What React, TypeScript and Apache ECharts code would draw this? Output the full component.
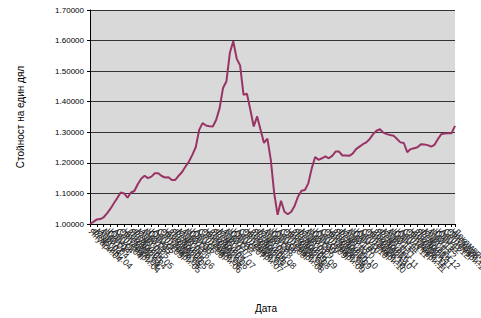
import React, { useEffect, useRef } from "react";
import * as echarts from "echarts";

const monthNames = [
  "Януари", "Февруари", "Март", "Април", "Май", "Юни",
  "Юли", "Август", "Септември", "Октомври", "Ноември", "Декември",
];
const years = ["04", "05", "06", "07", "08", "09", "10", "11", "12"];

const categories: string[] = [];
years.forEach((y) => monthNames.forEach((m) => categories.push(`${m}.${y}`)));

const values = [
  1.000, 1.007, 1.015, 1.016, 1.022, 1.035, 1.050, 1.068, 1.085, 1.103,
  1.100, 1.086, 1.103, 1.108, 1.130, 1.148, 1.158, 1.150, 1.155, 1.166,
  1.166, 1.157, 1.152, 1.153, 1.144, 1.144, 1.158, 1.170, 1.188, 1.204,
  1.226, 1.251, 1.308, 1.330, 1.322, 1.320, 1.319, 1.341, 1.379, 1.445,
  1.467, 1.560, 1.598, 1.541, 1.519, 1.423, 1.426, 1.374, 1.319, 1.352,
  1.308, 1.265, 1.279, 1.210, 1.100, 1.030, 1.076, 1.040, 1.032, 1.040,
  1.060, 1.090, 1.109, 1.111, 1.133, 1.182, 1.219, 1.210, 1.215, 1.221,
  1.215, 1.223, 1.237, 1.237, 1.224, 1.224, 1.223, 1.230, 1.245, 1.253,
  1.261, 1.267, 1.278, 1.294, 1.305, 1.310, 1.299, 1.294, 1.291, 1.289,
  1.278, 1.267, 1.265, 1.235, 1.245, 1.248, 1.251, 1.261, 1.260, 1.258,
  1.253, 1.259, 1.278, 1.294, 1.296, 1.297, 1.297, 1.321,
];

const yAxisTitle = "Стойност на един дял";
const xAxisTitle = "Дата";

const FONT = "'Liberation Sans', Arial, sans-serif";

export default function App() {
  const ref = useRef<HTMLDivElement>(null);
  useEffect(() => {
    if (!ref.current) return;
    const chart = echarts.init(ref.current, null, { renderer: "svg" });
    chart.setOption({
      animation: false,
      backgroundColor: "#ffffff",
      textStyle: { fontFamily: FONT },
      grid: {
        left: 90,
        right: 26,
        top: 10,
        bottom: 94,
        containLabel: false,
        outerBoundsMode: "none",
        show: true,
        backgroundColor: "#d9d9d9",
        borderWidth: 0,
      },
      xAxis: {
        type: "category",
        data: categories,
        boundaryGap: false,
        axisLine: { lineStyle: { color: "#000", width: 1 } },
        axisTick: { interval: 1, length: 3, lineStyle: { color: "#000" } },
        axisLabel: {
          interval: 0,
          rotate: -45,
          fontSize: 9,
          color: "#222",
          fontFamily: FONT,
          margin: 6,
        },
        splitLine: { show: false },
      },
      yAxis: {
        type: "value",
        min: 1.0,
        max: 1.7,
        interval: 0.1,
        axisLine: { show: true, lineStyle: { color: "#000", width: 1 } },
        axisTick: { show: true, length: 3, lineStyle: { color: "#000" } },
        axisLabel: {
          fontSize: 8,
          color: "#000",
          fontFamily: FONT,
          margin: 6,
          formatter: (v: number) => v.toFixed(5),
        },
        splitLine: { show: true, lineStyle: { color: "#333", width: 1 } },
      },
      graphic: [
        {
          type: "text",
          x: 20,
          y: 117,
          rotation: Math.PI / 2,
          style: {
            text: yAxisTitle,
            fontSize: 10,
            fontFamily: FONT,
            fill: "#000",
            align: "center",
            verticalAlign: "middle",
          },
        },
        {
          type: "text",
          x: 266,
          y: 308,
          style: {
            text: xAxisTitle,
            fontSize: 10,
            fontFamily: FONT,
            fill: "#000",
            align: "center",
            verticalAlign: "middle",
          },
        },
      ],
      series: [
        {
          type: "line",
          data: values,
          symbol: "none",
          lineStyle: { color: "#993366", width: 2 },
        },
      ],
    });
    return () => chart.dispose();
  }, []);
  return (
    <div
      ref={ref}
      style={{ position: "fixed", left: 0, top: 0, width: 481, height: 318 }}
    />
  );
}
